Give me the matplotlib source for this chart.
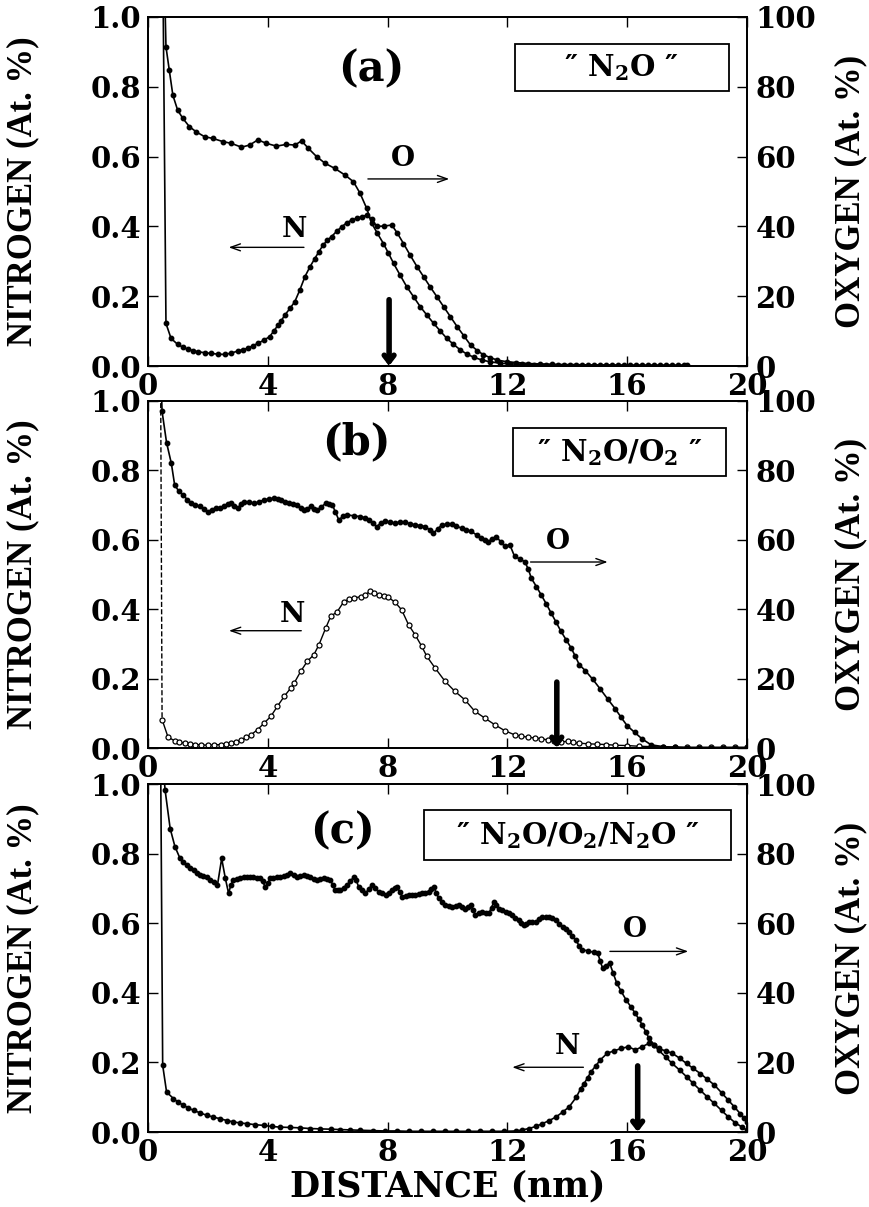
import numpy as np
import matplotlib.pyplot as plt
from matplotlib.patches import Rectangle

plt.rcParams['font.family'] = ['DejaVu Serif']
plt.rcParams['font.weight'] = 'bold'
plt.rcParams['axes.labelweight'] = 'bold'
plt.rcParams['mathtext.fontset'] = 'dejavuserif'

# ---- panel (a) "N2O" ----
xa_n = [0.5, 0.6, 0.77, 0.99, 1.16, 1.33, 1.5, 1.66, 1.89, 2.11, 2.33, 2.56, 2.78, 3.0, 3.17,
        3.34, 3.5, 3.67, 3.87, 4.06, 4.2, 4.34, 4.45, 4.57, 4.74, 4.9, 5.07, 5.24, 5.4, 5.57,
        5.71, 5.85, 5.99, 6.13, 6.3, 6.47, 6.63, 6.8, 6.97, 7.14, 7.3, 7.47, 7.64, 7.89, 8.14,
        8.33, 8.53, 8.75, 8.98, 9.2, 9.42, 9.65, 9.87, 10.1, 10.32, 10.55, 10.77, 11.0, 11.2,
        11.43, 11.66, 12.0, 12.3, 12.7, 13.1, 13.5, 13.9, 14.3, 14.7, 15.1, 15.5, 15.9, 16.3,
        16.7, 17.1, 17.5, 17.9]
na = [1.10, 0.122, 0.079, 0.062, 0.054, 0.048, 0.044, 0.041, 0.038, 0.036, 0.034, 0.033, 0.037,
      0.043, 0.047, 0.051, 0.058, 0.065, 0.074, 0.084, 0.100, 0.117, 0.130, 0.146, 0.165, 0.184,
      0.218, 0.256, 0.283, 0.308, 0.328, 0.347, 0.360, 0.371, 0.386, 0.399, 0.410, 0.418, 0.423,
      0.428, 0.432, 0.420, 0.400, 0.401, 0.404, 0.380, 0.351, 0.318, 0.285, 0.256, 0.227, 0.198,
      0.170, 0.141, 0.113, 0.086, 0.060, 0.044, 0.032, 0.024, 0.017, 0.012, 0.010, 0.007, 0.006,
      0.005, 0.004, 0.004, 0.003, 0.003, 0.003, 0.002, 0.002, 0.002, 0.002, 0.002, 0.002]
xa_o = [0.55, 0.6, 0.71, 0.83, 0.99, 1.16, 1.38, 1.61, 1.89, 2.17, 2.5, 2.78, 3.12, 3.39, 3.67,
        3.95, 4.29, 4.62, 4.9, 5.13, 5.35, 5.63, 5.91, 6.24, 6.58, 6.86, 7.08, 7.3, 7.47, 7.66,
        7.86, 8.03, 8.2, 8.42, 8.64, 8.87, 9.09, 9.32, 9.54, 9.76, 9.98, 10.2, 10.43, 10.65,
        10.88, 11.15, 11.43, 11.75, 12.1, 12.5, 12.9, 13.3, 13.7, 14.1, 14.5, 14.9, 15.3, 15.7,
        16.1, 16.5, 16.9, 17.3, 17.7, 18.0]
oa = [110, 91.5, 84.8, 77.6, 73.3, 71.0, 68.6, 67.1, 65.7, 65.2, 64.3, 63.8, 62.7, 63.3, 64.8,
      63.8, 63.0, 63.5, 63.3, 64.5, 62.4, 60.0, 58.1, 56.6, 54.7, 52.8, 49.5, 45.2, 40.9, 38.0,
      35.1, 32.3, 29.4, 26.0, 22.7, 19.8, 17.0, 14.5, 12.2, 10.0, 7.9, 6.2, 4.6, 3.4, 2.5, 1.7,
      1.2, 0.8, 0.6, 0.5, 0.4, 0.3, 0.3, 0.3, 0.2, 0.2, 0.2, 0.2, 0.2, 0.2, 0.2, 0.2, 0.2, 0.2]

# ---- panel (b) "N2O/O2" ----
xb_n = [0.42, 0.47, 0.67, 0.89, 1.05, 1.22, 1.4, 1.56, 1.78, 2.0, 2.22, 2.44, 2.6, 2.77, 2.94,
        3.11, 3.28, 3.44, 3.66, 3.88, 4.1, 4.32, 4.55, 4.77, 4.88, 5.1, 5.32, 5.54, 5.71, 5.93,
        6.1, 6.32, 6.54, 6.7, 6.87, 7.1, 7.25, 7.42, 7.56, 7.7, 7.87, 8.03, 8.25, 8.47, 8.7,
        8.92, 9.14, 9.31, 9.59, 9.92, 10.25, 10.58, 10.91, 11.25, 11.58, 11.91, 12.24, 12.47,
        12.69, 12.91, 13.13, 13.35, 13.57, 13.8, 14.01, 14.2, 14.4, 14.7, 15.0, 15.3, 15.6,
        16.0, 16.4, 16.8, 17.2, 17.6, 18.0, 18.4, 18.8, 19.2, 19.6, 20.0]
nb = [1.10, 0.082, 0.031, 0.021, 0.017, 0.014, 0.012, 0.010, 0.009, 0.008, 0.009, 0.010, 0.012,
      0.014, 0.018, 0.024, 0.031, 0.038, 0.053, 0.072, 0.091, 0.120, 0.149, 0.173, 0.187, 0.221,
      0.250, 0.269, 0.298, 0.345, 0.379, 0.393, 0.422, 0.428, 0.432, 0.436, 0.440, 0.453, 0.446,
      0.441, 0.437, 0.434, 0.420, 0.398, 0.355, 0.326, 0.293, 0.264, 0.230, 0.192, 0.163, 0.139,
      0.106, 0.086, 0.067, 0.050, 0.038, 0.034, 0.031, 0.029, 0.027, 0.023, 0.019, 0.018, 0.019,
      0.016, 0.014, 0.012, 0.011, 0.010, 0.008, 0.007, 0.005, 0.004, 0.003, 0.003, 0.002, 0.002,
      0.002, 0.002, 0.002, 0.002]
xb_o = [0.42, 0.47, 0.62, 0.78, 0.89, 1.03, 1.17, 1.31, 1.45, 1.58, 1.72, 1.86, 2.0, 2.14, 2.28,
        2.42, 2.55, 2.66, 2.77, 2.88, 2.99, 3.11, 3.22, 3.38, 3.55, 3.72, 3.88, 4.05, 4.22, 4.33,
        4.44, 4.58, 4.71, 4.85, 4.99, 5.1, 5.21, 5.32, 5.43, 5.54, 5.65, 5.79, 5.93, 6.04, 6.15,
        6.26, 6.37, 6.51, 6.65, 6.87, 7.09, 7.23, 7.37, 7.5, 7.64, 7.78, 7.92, 8.09, 8.26, 8.42,
        8.59, 8.75, 8.92, 9.09, 9.26, 9.4, 9.53, 9.67, 9.81, 9.98, 10.14, 10.3, 10.47, 10.63,
        10.8, 10.97, 11.13, 11.25, 11.36, 11.5, 11.63, 11.77, 11.91, 12.08, 12.24, 12.41, 12.58,
        12.7, 12.8, 12.97, 13.13, 13.3, 13.46, 13.63, 13.79, 13.96, 14.13, 14.27, 14.4, 14.6,
        14.85, 15.1, 15.35, 15.6, 15.8, 16.0, 16.25, 16.5, 16.8, 17.2, 17.6, 18.0, 18.4, 18.8,
        19.2, 19.6, 20.0]
ob = [110, 97, 88, 82, 75.8, 74.0, 72.9, 71.6, 70.5, 70.0, 69.6, 68.8, 68.1, 68.7, 69.1, 69.3,
      69.6, 70.2, 70.5, 69.8, 69.1, 70.2, 71.0, 70.8, 70.5, 71.0, 71.5, 71.8, 72.0, 71.8, 71.5,
      71.0, 70.5, 70.3, 70.1, 69.3, 68.6, 69.0, 69.6, 69.0, 68.6, 69.5, 70.5, 70.3, 70.1, 68.0,
      65.7, 66.8, 67.2, 66.9, 66.7, 66.4, 65.7, 64.7, 63.8, 64.9, 65.3, 65.0, 64.8, 65.2, 65.1,
      64.6, 64.3, 64.1, 63.8, 62.9, 61.9, 63.1, 64.3, 64.5, 64.5, 64.0, 63.3, 62.8, 62.4, 61.4,
      60.5, 59.9, 59.5, 60.3, 60.9, 59.5, 58.1, 58.6, 55.2, 54.5, 53.7, 51.5, 48.9, 46.5, 44.1,
      41.5, 38.9, 36.2, 33.6, 31.2, 28.8, 26.4, 24.0, 22.3, 19.8, 17.0, 14.1, 11.3, 8.8, 6.4,
      4.5, 2.6, 0.9, 0.4, 0.2, 0.1, 0.1, 0.1, 0.1, 0.1, 0.1]

# ---- panel (c) "N2O/O2/N2O" ----
xc_n = [0.42, 0.49, 0.62, 0.85, 1.0, 1.18, 1.35, 1.52, 1.74, 1.96, 2.18, 2.41, 2.63, 2.85, 3.07,
        3.3, 3.58, 3.86, 4.13, 4.41, 4.75, 5.08, 5.4, 5.75, 6.1, 6.42, 6.75, 7.09, 7.5, 7.9, 8.3,
        8.7, 9.1, 9.5, 9.9, 10.3, 10.7, 11.1, 11.5, 11.9, 12.3, 12.5, 12.72, 12.95, 13.17, 13.4,
        13.62, 13.84, 14.06, 14.3, 14.45, 14.56, 14.68, 14.79, 14.95, 15.1, 15.33, 15.55, 15.8,
        16.03, 16.27, 16.5, 16.73, 16.9, 17.05, 17.28, 17.51, 17.75, 17.98, 18.2, 18.44, 18.67,
        18.91, 19.15, 19.38, 19.58, 19.77, 19.9, 20.0]
nc = [1.10, 0.192, 0.115, 0.096, 0.086, 0.077, 0.069, 0.062, 0.055, 0.048, 0.043, 0.038, 0.033,
      0.029, 0.026, 0.024, 0.021, 0.019, 0.016, 0.014, 0.013, 0.012, 0.010, 0.009, 0.008, 0.007,
      0.006, 0.005, 0.004, 0.003, 0.003, 0.002, 0.002, 0.002, 0.002, 0.002, 0.002, 0.002, 0.002,
      0.002, 0.003, 0.006, 0.010, 0.016, 0.024, 0.033, 0.043, 0.057, 0.072, 0.100, 0.125, 0.139,
      0.156, 0.173, 0.190, 0.207, 0.226, 0.233, 0.240, 0.245, 0.236, 0.245, 0.255, 0.250, 0.240,
      0.233, 0.226, 0.212, 0.197, 0.183, 0.168, 0.152, 0.135, 0.113, 0.091, 0.072, 0.053, 0.040,
      0.029]
xc_o = [0.46, 0.57, 0.74, 0.9, 1.07, 1.18, 1.29, 1.4, 1.52, 1.63, 1.74, 1.85, 1.96, 2.08, 2.19,
        2.32, 2.46, 2.58, 2.69, 2.77, 2.85, 2.96, 3.08, 3.19, 3.3, 3.41, 3.52, 3.63, 3.75, 3.83,
        3.91, 4.0, 4.08, 4.19, 4.3, 4.42, 4.53, 4.64, 4.75, 4.86, 4.97, 5.08, 5.2, 5.31, 5.42,
        5.53, 5.64, 5.75, 5.86, 5.97, 6.09, 6.17, 6.25, 6.34, 6.42, 6.53, 6.64, 6.76, 6.87, 6.95,
        7.03, 7.15, 7.26, 7.37, 7.48, 7.59, 7.7, 7.81, 7.93, 8.04, 8.15, 8.24, 8.32, 8.4, 8.49,
        8.6, 8.7, 8.82, 8.93, 9.04, 9.15, 9.26, 9.37, 9.45, 9.54, 9.62, 9.71, 9.82, 9.93, 10.05,
        10.16, 10.27, 10.38, 10.49, 10.6, 10.69, 10.77, 10.85, 10.93, 11.05, 11.16, 11.27, 11.38,
        11.47, 11.55, 11.63, 11.72, 11.83, 11.94, 12.05, 12.16, 12.27, 12.39, 12.47, 12.55, 12.63,
        12.72, 12.83, 12.94, 13.05, 13.17, 13.28, 13.39, 13.5, 13.61, 13.72, 13.84, 13.95, 14.06,
        14.17, 14.28, 14.4, 14.5, 14.7, 14.9, 15.02, 15.1, 15.18, 15.3, 15.41, 15.53, 15.65, 15.8,
        15.96, 16.12, 16.27, 16.38, 16.5, 16.62, 16.73, 16.9, 17.05, 17.28, 17.5, 17.75, 17.98,
        18.2, 18.44, 18.67, 18.91, 19.15, 19.38, 19.6, 19.84, 20.0]
oc = [110, 98.3, 87.2, 82.0, 78.6, 77.5, 76.7, 76.0, 75.3, 74.5, 73.8, 73.5, 73.3, 72.5, 71.9,
      71.0, 78.6, 73.0, 68.6, 71.0, 72.4, 72.7, 72.9, 73.2, 73.3, 73.3, 73.3, 73.1, 72.9, 72.0,
      70.5, 71.5, 72.9, 73.1, 73.3, 73.4, 73.5, 73.9, 74.3, 73.8, 73.3, 73.5, 73.8, 73.6, 73.3,
      72.8, 72.4, 72.6, 72.9, 72.6, 72.4, 71.0, 69.5, 69.5, 69.5, 70.2, 71.0, 72.1, 73.3, 72.4,
      70.5, 69.6, 68.6, 69.8, 71.0, 70.0, 69.0, 68.6, 68.1, 68.8, 69.5, 70.0, 70.5, 69.0, 67.6,
      67.9, 68.1, 68.1, 68.1, 68.3, 68.6, 68.8, 69.0, 69.8, 70.5, 68.8, 67.1, 66.2, 65.2, 65.0,
      64.7, 64.9, 65.2, 64.7, 64.2, 64.7, 65.2, 63.8, 62.3, 62.8, 63.3, 63.0, 62.8, 64.5, 66.2,
      65.2, 64.2, 63.8, 63.3, 62.8, 62.3, 61.6, 60.9, 60.2, 59.4, 59.9, 60.4, 60.4, 60.4, 61.1,
      61.8, 61.8, 61.8, 61.4, 60.9, 59.9, 59.0, 58.3, 57.5, 56.3, 55.1, 53.5, 52.4, 52.0, 51.6,
      51.4, 49.0, 47.1, 47.8, 48.6, 45.7, 42.8, 40.4, 38.0, 36.0, 34.1, 32.5, 30.8, 28.8, 26.9,
      25.1, 23.5, 21.6, 19.7, 17.8, 15.9, 14.0, 12.0, 10.1, 8.2, 6.2, 4.3, 2.7, 1.4, 0.5]

panel_tags = ["(a)", "(b)", "(c)"]
sample_names = ["\u2033 $\\mathbf{N_2O}$ \u2033",
                "\u2033 $\\mathbf{N_2O/O_2}$ \u2033",
                "\u2033 $\\mathbf{N_2O/O_2/N_2O}$ \u2033"]
x_ticks = [0, 4, 8, 12, 16, 20]
n_ticks = [0.0, 0.2, 0.4, 0.6, 0.8, 1.0]
o_ticks = [0, 20, 40, 60, 80, 100]

W, H = 870, 1207
fig = plt.figure(figsize=(W / 100, H / 100), dpi=100)

# axes frames in pixels: (top, bottom)
frames = [(17, 366), (401, 748), (784, 1132)]
x_left, x_right = 148, 747

# label / arrow placement per panel (data units; N axis for y)
layout = [
    dict(tag=(7.45, 0.85), box=(12.25, 0.789, 7.15, 0.134), name=(15.8, 0.855),
         n_lab=(4.9, 0.39), n_arr=(5.3, 2.6, 0.34), o_lab=(8.5, 0.595), o_arr=(7.25, 10.15, 0.536),
         down=8.05),
    dict(tag=(6.95, 0.88), box=(12.19, 0.785, 7.1, 0.138), name=(15.75, 0.852),
         n_lab=(4.82, 0.384), n_arr=(5.21, 2.61, 0.338), o_lab=(13.68, 0.595), o_arr=(12.68, 15.44, 0.536),
         down=13.65),
    dict(tag=(6.5, 0.865), box=(9.23, 0.781, 10.23, 0.144), name=(14.35, 0.852),
         n_lab=(14.0, 0.245), n_arr=(14.63, 12.07, 0.186), o_lab=(16.27, 0.582), o_arr=(15.33, 18.13, 0.519),
         down=16.35),
]

series = [(xa_n, na, xa_o, oa), (xb_n, nb, xb_o, ob), (xc_n, nc, xc_o, oc)]

for i, ((top, bot), (xn, n, xo, o), lay) in enumerate(zip(frames, series, layout)):
    ax = fig.add_axes([x_left / W, 1 - bot / H, (x_right - x_left) / W, (bot - top) / H])
    ax2 = ax.twinx()

    if i == 1:
        ax.plot(xn[:2], n[:2], '--', color='black', lw=1.0)
        ax.plot(xn[1:], n[1:], '-o', color='black', lw=1.0, ms=3.6,
                mfc='white', mec='black', mew=0.9)
    else:
        ax.plot(xn, n, '-o', color='black', lw=1.2, ms=3.2)
    ax2.plot(xo, o, '-o', color='black', lw=1.2, ms=3.2)

    ax.set_xlim(0, 20)
    ax.set_ylim(0, 1.0)
    ax2.set_ylim(0, 100)
    ax.set_xticks(x_ticks)
    ax.set_yticks(n_ticks)
    ax.set_yticklabels([f"{v:.1f}" for v in n_ticks])
    ax2.set_yticks(o_ticks)
    ax.tick_params(direction='in', length=7, width=1, top=True, labelsize=21, pad=5)
    ax.tick_params(axis='x', pad=4)
    ax2.tick_params(direction='in', length=7, width=1, labelsize=21, pad=6)
    for a in (ax, ax2):
        for s in a.spines.values():
            s.set_linewidth(1.3)

    ax.set_ylabel("NITROGEN (At. %)", fontsize=25, family='Liberation Serif', fontweight='bold')
    ax.yaxis.set_label_coords(-0.182, 0.5)
    ax2.set_ylabel("OXYGEN (At. %)", fontsize=25, family='Liberation Serif', fontweight='bold')
    ax2.yaxis.set_label_coords(1.145, 0.5)

    ax.text(*lay['tag'], panel_tags[i], fontsize=30, ha='center', va='center')
    bx, by, bw, bh = lay['box']
    ax.add_patch(Rectangle((bx, by), bw, bh, fill=False, lw=1.3, ec='black'))
    ax.text(*lay['name'], sample_names[i], fontsize=21, ha='center', va='center')

    ax.text(*lay['n_lab'], "N", fontsize=20, ha='center', va='center')
    x0, x1, yy = lay['n_arr']
    ax.annotate("", xy=(x1, yy), xytext=(x0, yy),
                arrowprops=dict(arrowstyle='->,head_length=0.7,head_width=0.25', lw=1.0, color='black'))
    ax.text(*lay['o_lab'], "O", fontsize=20, ha='center', va='center')
    x0, x1, yy = lay['o_arr']
    ax.annotate("", xy=(x1, yy), xytext=(x0, yy),
                arrowprops=dict(arrowstyle='->,head_length=0.7,head_width=0.25', lw=1.0, color='black'))
    ax.annotate("", xy=(lay['down'], 0.0), xytext=(lay['down'], 0.19),
                arrowprops=dict(arrowstyle='->,head_length=0.45,head_width=0.35', lw=4, color='black',
                                shrinkA=0, shrinkB=0))

    if i == 2:
        ax.set_xlabel("DISTANCE (nm)", fontsize=25, fontweight='bold')
        ax.xaxis.set_label_coords(0.5, -0.108)

fig.savefig("out.png", dpi=100)
